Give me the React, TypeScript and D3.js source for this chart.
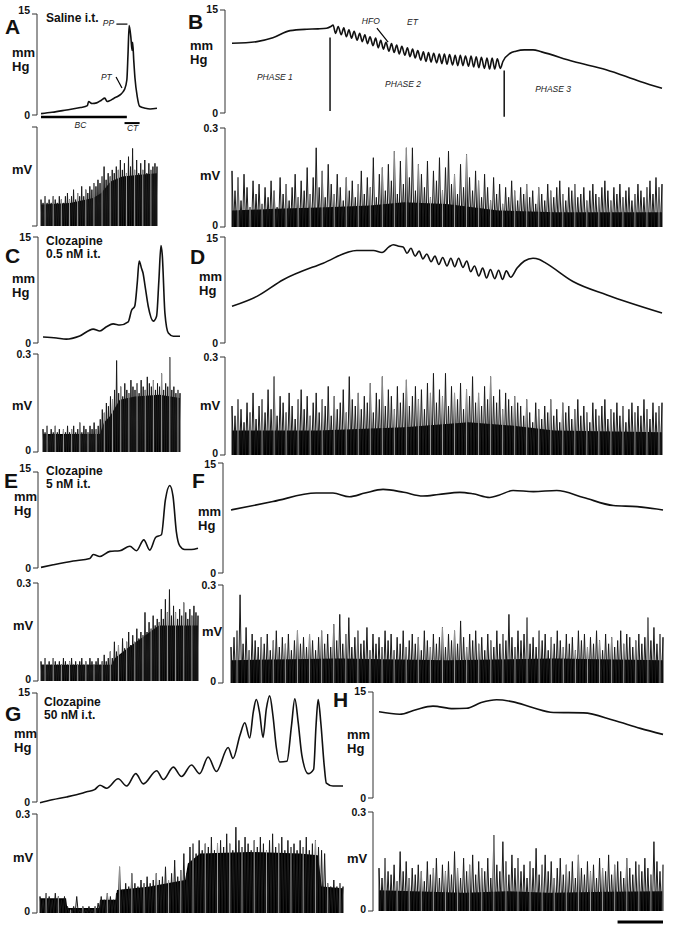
import React from "react";
import * as d3 from "d3";

// bladder pressure traces: [time %, mmHg]
const pressureA = [[0,0.2],[9.5,0.4],[22,0.75],[34,1.1],[40,1.4],[41,2.0],[44,1.7],[48,1.8],[52,2.2],[55,2.5],[57,2.0],[59,2.1],[63,2.5],[65.5,2.7],[69,3.1],[71,3.5],[72,3.8],[74,5.2],[75,9.0],[76,13.3],[77.5,11.5],[78.5,9.6],[79,10.8],[80,8.0],[81,5.5],[83,2.7],[85,1.3],[90,1.0],[94,0.9],[100,1.0]];

const pressureB = [[0,10.15],[5.8,10.4],[9.5,10.95],[13.5,12.0],[17.4,12.2],[20,12.25],[22,12.35],[23,12.6],
  [23.5,12.8],[24.1,11.6],[24.7,12.6],[25.4,11.4],[26.0,12.4],[26.6,11.1],[27.2,12.1],[27.8,10.9],[28.4,11.9],[29.1,10.6],
  [29.7,11.6],[30.3,10.4],[30.9,11.4],[31.5,10.1],[32.1,11.1],[32.8,9.8],[33.4,10.9],[34.0,9.5],[34.6,10.6],[35.2,9.3],
  [35.8,10.3],[36.5,9.0],[37.1,10.1],[37.7,8.8],[38.3,9.9],[38.9,8.6],[39.5,9.7],[40.2,8.4],[40.8,9.5],[41.4,8.2],
  [42.0,9.3],[42.6,8.0],[43.2,9.1],[43.9,7.7],[44.5,8.9],[45.1,7.5],[45.7,8.8],[46.3,7.4],[46.9,8.7],[47.6,7.3],
  [48.2,8.6],[48.8,7.2],[49.4,8.6],[50.0,7.1],[50.6,8.5],[51.3,7.0],[51.9,8.4],[52.5,6.9],[53.1,8.4],[53.7,6.9],
  [54.3,8.3],[55.0,6.8],[55.6,8.3],[56.2,6.7],[56.8,8.2],[57.4,6.6],[58.0,8.1],[58.7,6.5],[59.3,8.0],[59.9,6.4],
  [60.5,8.0],[61.1,6.4],[61.7,7.9],[62.4,6.5],[63.0,7.5],
  [64.7,8.7],[66,9.0],[68,9.2],[70,9.2],[72,8.9],[79.4,7.5],[87,6.3],[94.9,4.6],[100,3.6]];

const pressureC = [[0,0.85],[9.8,0.7],[17,0.55],[26.8,1.0],[36.6,1.97],[41.5,1.7],[46.3,2.3],[51.2,2.7],[56.1,2.55],[62.2,3.0],[64.6,4.6],[67,5.25],[68.8,8.5],[70.2,11.6],[72,10.5],[73,9.9],[74.4,8.2],[76.8,5.2],[80.5,3.1],[82.9,3.8],[84.6,8.9],[86.1,13.8],[87,12.6],[89,4.2],[91.5,1.4],[95.1,0.95],[100,0.95]];

const pressureD = [[0,5.2],[5.8,6.6],[11.9,8.95],[21.2,11.3],[29,13.1],[32.9,13.1],[34.9,12.8],[36.5,13.6],[37.5,13.9],[38.8,13.7],
  [39.8,13.6],[40.7,12.7],[41.6,13.4],[42.6,12.3],[43.5,13.0],[44.4,11.9],[45.3,12.6],[46.3,11.5],[47.2,12.3],[48.1,11.1],
  [49.0,12.1],[50.0,10.9],[50.9,12.0],[51.8,10.8],[52.7,12.0],[53.7,10.7],[54.6,11.6],[55.5,10.1],[56.4,10.9],[57.4,9.5],
  [58.3,10.6],[59.2,9.2],[60.1,10.4],[61.1,9.1],[62.0,10.3],[62.9,9.0],[63.8,10.2],[64.8,9.3],[66.3,10.6],[68.0,11.6],
  [70.0,12.0],[71.5,11.8],[73,11.3],[79.3,8.7],[87.2,6.8],[100,4.25]];

const pressureE = [[0,0.1],[7.8,0.5],[20.5,1.1],[31.1,1.5],[33.3,2.1],[37.5,1.8],[43.9,2.6],[50.2,2.7],[56.6,3.4],[60.8,2.7],[65.5,4.4],[69.3,2.8],[73.1,4.8],[76.7,5.2],[79.2,10.6],[82,12.9],[84.1,11.2],[86.2,5.7],[88.3,3.5],[91.5,2.9],[95.8,2.9],[100,3.1]];

const pressureF = [[0,8.6],[9.7,9.74],[19.7,10.9],[23.6,10.9],[27.4,10.4],[31,10.9],[35.2,11.4],[40,11.0],[44.4,10.5],[48,10.7],[53,11.0],[56,10.8],[59.9,10.3],[62,10.6],[65.3,11.25],[70,11.1],[75.4,11.25],[81.6,10.3],[88.5,9.2],[94,9.05],[100,8.6]];

const pressureG = [[0,-0.1],[4,0.3],[8.8,0.7],[12,1.0],[15.4,1.4],[18,1.7],[19.8,2.3],[22,1.9],[25.8,3.2],[28.6,2.2],[31.6,3.9],[34.1,2.5],[38.5,4.3],[40.7,3.1],[44,4.8],[46.7,3.5],[50,5.1],[52.7,3.9],[55.5,6.2],[58.2,4.2],[62.1,7.5],[63.7,6.0],[66,9.2],[67.6,10.9],[69.2,8.8],[70.4,12.4],[71.4,14.1],[72.5,12.2],[73.6,8.9],[74.7,12.8],[75.8,14.6],[76.9,11.8],[78,7.5],[79.1,5.5],[81.5,5.6],[83,10.5],[84.1,14.2],[85.2,11.0],[86.4,6.5],[88.5,3.9],[90.3,4.5],[91.1,10.5],[91.8,14.1],[92.7,10.8],[93.8,5.0],[94.5,2.6],[96.7,2.2],[100,2.2]];

const pressureH = [[0,12.2],[7.3,11.85],[13,12.5],[19,13.0],[26.1,12.65],[30.8,12.7],[36,13.5],[41.4,13.9],[47.3,13.6],[54,12.8],[61.4,12.1],[72,12.05],[82.6,11.0],[92,9.85],[100,9.0]];

// EMG dense activity envelope: [time %, mV]
const emgBodyA = [[0,0.065],[25,0.07],[45,0.085],[52,0.1],[60,0.135],[70,0.15],[85,0.155],[100,0.16]];
const emgBodyB = [[0,0.05],[10,0.055],[22,0.06],[32,0.065],[40,0.075],[50,0.07],[56,0.06],[62,0.05],[75,0.045],[88,0.045],[100,0.045]];
const emgBodyC = [[0,0.055],[41.6,0.055],[44.5,0.09],[49,0.11],[56,0.16],[67,0.17],[85,0.175],[100,0.165]];
const emgBodyD = [[0,0.075],[20,0.075],[40,0.085],[55,0.1],[65,0.09],[75,0.075],[100,0.07]];
const emgBodyE = [[0,0.05],[45,0.05],[47,0.07],[55,0.1],[65,0.135],[75,0.17],[100,0.17]];
const emgBodyF = [[0,0.07],[25,0.075],[50,0.07],[75,0.075],[100,0.07]];
const emgBodyG = [[0,0.045],[8.6,0.045],[9,0.015],[19.5,0.015],[19.8,0.04],[25,0.04],[25.4,0.07],[36.3,0.08],[42,0.09],[47.9,0.1],[48.8,0.15],[52.8,0.18],[69.3,0.185],[85.8,0.18],[91.7,0.175],[93,0.08],[100,0.075]];
const emgBodyH = [[0,0.063],[30,0.055],[45,0.06],[60,0.055],[80,0.058],[100,0.06]];

// EMG spike peaks (mV), evenly spaced over the record
const emgSpikesA = [0.08,0.07,0.09,0.07,0.08,0.07,0.09,0.08,0.07,0.09,0.08,0.07,
  0.09,0.10,0.08,0.09,0.11,0.08,0.10,0.09,0.12,0.09,0.11,0.10,
  0.12,0.11,0.13,0.12,0.14,0.13,0.15,0.18,0.14,0.16,0.15,0.17,
  0.16,0.18,0.17,0.20,0.17,0.19,0.16,0.21,0.18,0.235,0.17,0.20,
  0.16,0.19,0.17,0.20,0.16,0.19,0.17,0.18,0.19,0.18];

const emgSpikesB = [0.17,0.11,0.15,0.08,0.16,0.12,0.06,0.14,0.10,0.13,0.07,0.12,
  0.09,0.14,0.11,0.06,0.15,0.10,0.13,0.08,0.12,0.16,0.09,0.14,
  0.11,0.18,0.10,0.15,0.24,0.12,0.17,0.09,0.19,0.13,0.10,0.16,
  0.12,0.08,0.15,0.11,0.14,0.09,0.13,0.17,0.10,0.15,
  0.12,0.21,0.09,0.16,0.18,0.11,0.19,0.14,0.23,0.10,0.20,0.13,
  0.24,0.15,0.24,0.11,0.19,0.16,0.12,0.20,0.09,0.17,0.14,0.21,
  0.11,0.18,0.23,0.13,0.16,0.10,0.19,0.12,0.22,0.15,
  0.11,0.17,0.14,0.09,0.16,0.12,0.08,0.15,0.10,0.13,0.07,0.12,
  0.09,0.14,0.11,0.08,0.12,0.10,0.13,0.09,0.11,0.07,0.12,0.10,
  0.08,0.13,0.11,0.09,0.12,0.14,0.10,0.08,0.12,0.11,0.13,0.09,
  0.10,0.12,0.08,0.11,0.13,0.10,0.09,0.12,0.14,0.11,0.08,0.12,
  0.10,0.13,0.09,0.11,0.12,0.08,0.10,0.13,0.11,0.09,0.12,0.14,
  0.10,0.15,0.12,0.13];

const emgSpikesC = [0.07,0.06,0.08,0.05,0.07,0.06,0.08,0.06,0.07,0.05,0.07,0.06,
  0.08,0.06,0.07,0.08,0.06,0.07,0.09,0.06,0.08,0.07,0.06,0.08,
  0.07,0.09,0.07,0.08,0.10,0.13,0.12,0.15,0.14,0.17,0.16,0.19,
  0.28,0.18,0.20,0.17,0.21,0.19,0.18,0.22,0.20,0.19,0.21,0.18,
  0.22,0.20,0.19,0.23,0.21,0.20,0.22,0.19,0.21,0.20,0.24,0.19,
  0.21,0.20,0.29,0.19,0.20,0.18,0.19,0.18];

const emgSpikesD = [0.15,0.12,0.17,0.14,0.10,0.16,0.13,0.19,0.11,0.15,0.17,0.13,
  0.20,0.14,0.24,0.12,0.18,0.16,0.13,0.19,0.15,0.11,0.17,0.20,
  0.14,0.18,0.12,0.16,0.19,0.13,0.17,0.15,0.21,0.12,0.18,0.14,
  0.16,0.20,0.13,0.24,0.17,0.15,0.19,0.14,0.18,0.16,
  0.22,0.13,0.19,0.17,0.24,0.15,0.20,0.18,0.14,0.21,0.16,0.19,
  0.23,0.15,0.18,0.21,0.17,0.20,0.14,0.22,0.19,0.25,0.16,0.20,
  0.18,0.25,0.15,0.21,0.19,0.17,0.22,0.14,0.20,0.18,0.24,0.16,
  0.19,0.15,0.21,0.17,0.24,0.18,0.16,0.20,0.14,0.19,0.17,0.15,
  0.18,0.16,
  0.15,0.12,0.17,0.13,0.10,0.16,0.14,0.11,0.15,0.13,0.17,0.12,
  0.14,0.10,0.16,0.13,0.15,0.11,0.14,0.17,0.12,0.15,0.13,0.10,
  0.16,0.14,0.12,0.15,0.17,0.11,0.14,0.13,0.16,0.12,0.15,0.10,
  0.14,0.16,0.13,0.15,0.12,0.17,0.14,0.11,0.16,0.13,0.15,0.16];

const emgSpikesE = [0.06,0.05,0.07,0.05,0.06,0.05,0.07,0.06,0.05,0.06,0.05,0.07,0.06,0.05,0.06,0.07,0.05,0.06,0.05,0.06,
  0.07,0.05,0.06,0.05,0.07,0.06,0.05,0.06,0.07,0.05,0.06,0.08,0.06,0.07,0.09,0.07,0.12,
  0.09,0.11,0.08,0.13,0.10,0.12,0.15,0.11,0.14,0.12,0.16,0.13,0.15,0.14,
  0.21,0.15,0.18,0.16,0.20,0.17,0.19,0.18,
  0.22,0.19,0.25,0.21,0.28,0.20,0.23,0.21,0.19,0.22,0.20,0.24,0.21,0.19,0.22,0.20,0.23,0.21,0.20];

const emgSpikesF = [0.11,0.14,0.16,0.27,0.12,0.17,0.10,0.15,0.13,0.11,0.14,0.12,
  0.15,0.10,0.13,0.16,0.11,0.14,0.12,0.15,0.10,0.13,0.16,0.12,
  0.14,0.11,0.15,0.13,0.10,0.14,0.16,0.12,0.15,0.11,0.18,0.13,
  0.21,0.12,0.15,0.20,0.11,0.14,0.16,0.12,0.13,0.17,0.10,0.15,
  0.12,0.14,0.11,0.16,0.13,0.15,0.10,0.14,0.12,0.16,0.11,0.13,
  0.15,0.12,0.14,0.10,0.16,0.13,0.11,0.15,0.12,0.14,0.17,0.11,
  0.15,0.13,0.16,0.12,0.19,0.14,0.11,0.15,0.13,0.16,0.12,0.14,
  0.10,0.15,0.13,0.11,0.16,0.12,0.15,0.13,0.21,0.14,0.11,0.16,
  0.13,0.15,0.20,0.12,0.14,0.11,0.16,0.13,0.15,0.10,0.14,0.12,
  0.16,0.13,0.11,0.15,0.12,0.14,0.10,0.16,0.13,0.15,0.11,0.14,
  0.12,0.16,0.13,0.10,0.15,0.12,0.14,0.11,0.13,0.16,0.12,0.15,
  0.14,0.11,0.13,0.15,0.12,0.14,0.20,0.13,0.17,0.12,0.15,0.14];

const emgSpikesG = [0.05,0.04,0.06,0.05,0.04,0.06,0.05,0.04,0.05,
  0.02,0.01,0.02,0.05,0.01,0.02,0.01,0.02,0.01,0.02,0.03,
  0.05,0.04,0.06,0.05,0.04,0.06,
  0.14,0.07,0.09,0.08,0.12,0.09,0.08,0.10,0.09,0.11,0.09,0.10,0.12,0.10,0.11,0.14,0.10,
  0.12,0.16,0.11,0.13,0.18,0.12,
  0.20,0.21,0.18,0.22,0.19,0.21,0.20,0.23,0.19,0.21,0.22,0.20,0.24,0.21,0.19,0.26,0.22,0.20,0.23,0.21,
  0.19,0.22,0.20,0.23,0.21,0.19,0.22,0.24,0.20,0.21,0.23,0.19,0.22,0.20,0.21,0.19,0.22,0.20,0.23,0.19,
  0.21,0.22,0.20,0.19,0.18,
  0.09,0.08,0.10,0.08,0.09,0.08];

const emgSpikesH = [0.13,0.10,0.16,0.12,0.11,0.14,0.09,0.18,0.12,0.15,0.10,0.13,
  0.11,0.14,0.12,0.09,0.15,0.11,0.13,0.16,0.10,0.14,0.12,0.15,
  0.11,0.18,0.13,0.10,0.16,0.12,0.14,0.17,0.11,0.15,0.13,0.12,
  0.16,0.10,0.23,0.14,0.12,0.21,0.15,0.11,0.17,0.13,0.16,0.12,
  0.14,0.10,0.15,0.13,0.19,0.11,0.14,0.17,0.12,0.15,0.10,0.13,
  0.16,0.11,0.14,0.12,0.15,0.10,0.17,0.13,0.11,0.15,0.12,0.14,
  0.10,0.16,0.13,0.12,0.17,0.11,0.14,0.15,0.12,0.10,0.16,0.13,
  0.11,0.15,0.14,0.12,0.16,0.13,0.11,0.21,0.15,0.12,0.14];

const panelTitles = {
  A: ["Saline i.t."],
  C: ["Clozapine", "0.5 nM i.t."],
  E: ["Clozapine", "5 nM i.t."],
  G: ["Clozapine", "50 nM i.t."],
};

const FONT = "'Liberation Sans', Arial, Helvetica, sans-serif";

const panels = [
  { key: "A", pressure: pressureA, body: emgBodyA, spikes: emgSpikesA, x0: 41, x1: 157, axisX: 37, pTop: 14, pBot: 115, eTop: 127, eBot: 226, emgTicks: false, topLabelDy: 0, letter: [5, 34], mm: [12, 57], mv: [12, 174], title: [46, 22] },
  { key: "B", pressure: pressureB, body: emgBodyB, spikes: emgSpikesB, x0: 232, x1: 662, axisX: 225, pTop: 10, pBot: 113, eTop: 128, eBot: 227, emgTicks: true, topLabelDy: 3, letter: [188, 29], mm: [190, 50], mv: [200, 180] },
  { key: "C", pressure: pressureC, body: emgBodyC, spikes: emgSpikesC, x0: 43, x1: 180, axisX: 38, pTop: 237, pBot: 343, eTop: 354, eBot: 452, emgTicks: true, topLabelDy: 4, letter: [5, 263], mm: [12, 283], mv: [12, 410], title: [46, 245] },
  { key: "D", pressure: pressureD, body: emgBodyD, spikes: emgSpikesD, x0: 232, x1: 662, axisX: 225, pTop: 237, pBot: 343, eTop: 357, eBot: 455, emgTicks: true, topLabelDy: 5, letter: [190, 264], mm: [199, 281], mv: [200, 410] },
  { key: "E", pressure: pressureE, body: emgBodyE, spikes: emgSpikesE, x0: 41, x1: 198, axisX: 38, pTop: 472, pBot: 568, eTop: 583, eBot: 681, emgTicks: true, topLabelDy: 0, letter: [4, 488], mm: [14, 501], mv: [13, 630], title: [46, 475] },
  { key: "F", pressure: pressureF, body: emgBodyF, spikes: emgSpikesF, x0: 231, x1: 663, axisX: 223, pTop: 463, pBot: 573, eTop: 585, eBot: 683, emgTicks: true, topLabelDy: 5, letter: [192, 488], mm: [198, 516], mv: [202, 636] },
  { key: "G", pressure: pressureG, body: emgBodyG, spikes: emgSpikesG, x0: 40, x1: 343, axisX: 37, pTop: 693, pBot: 802, eTop: 814, eBot: 913, emgTicks: true, topLabelDy: 3, letter: [5, 721], mm: [14, 738], mv: [13, 862], title: [44, 706] },
  { key: "H", pressure: pressureH, body: emgBodyH, spikes: emgSpikesH, x0: 379, x1: 663, axisX: 373, pTop: 692, pBot: 798, eTop: 812, eBot: 911, emgTicks: true, topLabelDy: 3, letter: [333, 707], mm: [347, 739], mv: [347, 863] },
];

const boldText = { fontFamily: FONT, fontWeight: 700, fontSize: 12, fill: "#111" };
const tickText = { fontFamily: FONT, fontWeight: 700, fontSize: 10.5, fill: "#111" };
const noteText = { fontFamily: FONT, fontStyle: "italic", fontSize: 8.5, fill: "#222" };

function Bracket({ x, top, bottom }) {
  return <path d={`M${x - 5},${top}H${x}V${bottom}H${x - 5}`} fill="none" stroke="#333" strokeWidth={1} />;
}

function Panel({ p }) {
  const x = d3.scaleLinear().domain([0, 100]).range([p.x0, p.x1]);
  const yP = d3.scaleLinear().domain([0, 15]).range([p.pBot, p.pTop]);
  const yE = d3.scaleLinear().domain([0, 0.3]).range([p.eBot, p.eTop]);
  const line = d3.line().x(d => x(d[0])).y(d => yP(d[1])).curve(d3.curveMonotoneX);
  const area = d3.area().x(d => x(d[0])).y0(yE(0)).y1(d => yE(d[1]));
  const n = p.spikes.length;
  const step = (p.x1 - p.x0) / (n - 1);
  // rectified EMG drawn as a zig-zag trace: up to each spike, back to the baseline
  let emgPath = `M${p.x0},${yE(0)}`;
  p.spikes.forEach((v, i) => {
    const xi = x((i / (n - 1)) * 100);
    emgPath += `L${xi},${yE(v)}L${Math.min(xi + step * 0.5, p.x1)},${yE(0)}`;
  });
  const title = panelTitles[p.key];

  return (
    <g>
      <text x={p.letter[0]} y={p.letter[1]} style={{ fontFamily: FONT, fontWeight: 700, fontSize: 21, fill: "#111" }}>{p.key}</text>
      {title && title.map((t, i) => (
        <text key={i} x={p.title[0]} y={p.title[1] + i * 13} style={boldText}>{t}</text>
      ))}
      <text x={p.mm[0]} y={p.mm[1]} style={{ ...boldText, fontSize: 13 }}>mm</text>
      <text x={p.mm[0]} y={p.mm[1] + 14} style={{ ...boldText, fontSize: 13 }}>Hg</text>
      <text x={p.mv[0]} y={p.mv[1]} style={{ ...boldText, fontSize: 13 }}>mV</text>

      {/* pressure axis */}
      <Bracket x={p.axisX} top={yP(15)} bottom={yP(0)} />
      <text x={p.axisX - 7} y={yP(15) + p.topLabelDy} textAnchor="end" style={tickText}>15</text>
      <text x={p.axisX - 7} y={yP(0) + 4} textAnchor="end" style={tickText}>0</text>
      <path d={line(p.pressure)} fill="none" stroke="#111" strokeWidth={1.6} strokeLinejoin="round" />

      {/* EMG axis */}
      <Bracket x={p.axisX} top={yE(0.3)} bottom={yE(0)} />
      {p.emgTicks && <text x={p.axisX - 7} y={yE(0.3) + 4} textAnchor="end" style={tickText}>0.3</text>}
      {p.emgTicks && <text x={p.axisX - 7} y={yE(0) + 2} textAnchor="end" style={tickText}>0</text>}
      <path d={area(p.body)} fill="#000" />
      <path d={emgPath} fill="none" stroke="#1a1a1a" strokeWidth={1} strokeLinejoin="miter" />
      {p.spikes.map((v, i) => (i % 4 === 2 ? (
        <line key={i} x1={x((i / (n - 1)) * 100)} x2={x((i / (n - 1)) * 100)} y1={yE(0)} y2={yE(v)} stroke="#9a9a9a" strokeWidth={1} />
      ) : null))}
    </g>
  );
}

function Annotations() {
  const a = panels[0];
  const xa = d3.scaleLinear().domain([0, 100]).range([a.x0, a.x1]);
  const ya = d3.scaleLinear().domain([0, 15]).range([a.pBot, a.pTop]);
  const b = panels[1];
  const xb = d3.scaleLinear().domain([0, 100]).range([b.x0, b.x1]);
  const yb = d3.scaleLinear().domain([0, 15]).range([b.pBot, b.pTop]);
  const h = panels[7];
  const xh = d3.scaleLinear().domain([0, 100]).range([h.x0, h.x1]);
  const phaseLines = [[22.8, 11, 0.3], [63.3, 6.2, -0.55]];
  const phaseLabels = [["PHASE 1", 5.8, 4.8], ["PHASE 2", 35.6, 3.78], ["PHASE 3", 70.5, 3.06]];
  return (
    <g>
      {/* panel A: bladder contraction / clonic contraction bars */}
      <line x1={xa(0)} x2={xa(74)} y1={ya(-0.3)} y2={ya(-0.3)} stroke="#000" strokeWidth={2.5} />
      <line x1={xa(72)} x2={xa(85)} y1={ya(-1.2)} y2={ya(-1.2)} stroke="#000" strokeWidth={2} />
      <text x={xa(34)} y={ya(-1.95)} textAnchor="middle" style={noteText}>BC</text>
      <text x={xa(79)} y={ya(-2.4)} textAnchor="middle" style={noteText}>CT</text>
      <text x={xa(63)} y={ya(13.2)} textAnchor="end" style={noteText}>PP</text>
      <line x1={xa(65)} x2={xa(74.5)} y1={ya(13.5)} y2={ya(13.5)} stroke="#000" strokeWidth={1.2} />
      <text x={xa(61)} y={ya(5.2)} textAnchor="end" style={noteText}>PT</text>
      <line x1={xa(64.7)} x2={xa(69.8)} y1={ya(5.65)} y2={ya(4.0)} stroke="#000" strokeWidth={1.2} />

      {/* panel B: phases */}
      <text x={xb(30.2)} y={yb(12.95)} style={noteText}>HFO</text>
      <text x={xb(40.7)} y={yb(12.8)} style={noteText}>ET</text>
      <line x1={xb(33.7)} x2={xb(36.3)} y1={yb(12.37)} y2={yb(10.33)} stroke="#000" strokeWidth={1.2} />
      {phaseLines.map((l, i) => (
        <line key={i} x1={xb(l[0])} x2={xb(l[0])} y1={yb(l[1])} y2={yb(l[2])} stroke="#000" strokeWidth={1.4} />
      ))}
      {phaseLabels.map((l, i) => (
        <text key={i} x={xb(l[1])} y={yb(l[2])} style={noteText}>{l[0]}</text>
      ))}

      {/* time scale bar */}
      <line x1={xh(84)} x2={xh(100)} y1={922} y2={922} stroke="#000" strokeWidth={3} />
    </g>
  );
}

export default function App() {
  return (
    <svg width={685} height={938} style={{ position: "absolute", left: 0, top: 0, background: "#fff" }}>
      <rect width={685} height={938} fill="#fff" />
      {panels.map(p => <Panel key={p.key} p={p} />)}
      <Annotations />
    </svg>
  );
}
